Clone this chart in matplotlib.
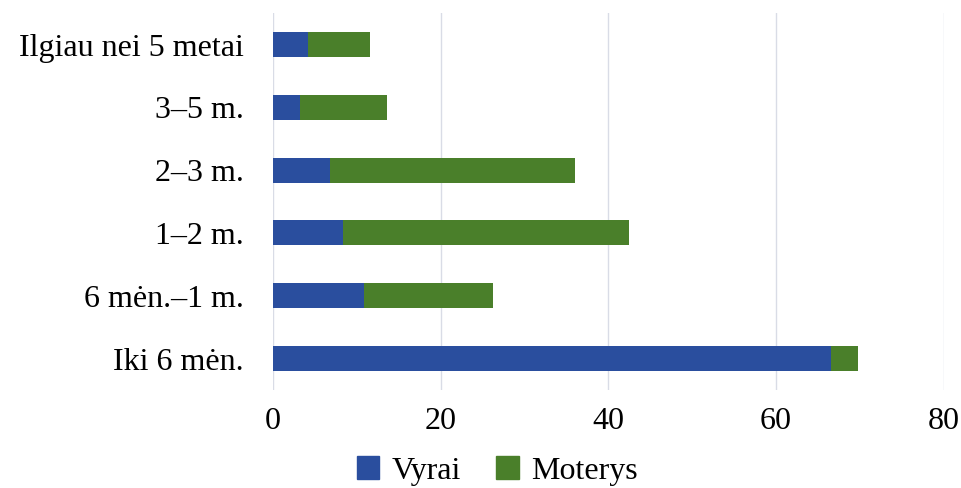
import matplotlib
matplotlib.use('Agg')
import matplotlib.pyplot as plt
from matplotlib.patches import Patch

# Categories (bottom to top as drawn)
categories = ['Iki 6 mėn.', '6 mėn.–1 m.', '1–2 m.', '2–3 m.', '3–5 m.', 'Ilgiau nei 5 metai']
vyrai = [66.6, 10.8, 8.4, 6.8, 3.2, 4.2]
moterys_total = [69.8, 26.2, 42.5, 36.0, 13.6, 11.6]
moterys = [t - v for t, v in zip(moterys_total, vyrai)]

x_ticks = [0, 20, 40, 60, 80]

BLUE = '#2A4E9E'
GREEN = '#4A7F2A'
FS = 23

plt.rcParams['font.family'] = ['Liberation Serif', 'DejaVu Serif']

fig = plt.figure(figsize=(9.62, 4.88), dpi=100)
ax = fig.add_axes([0.2838, 0.201, 0.981 - 0.2838, 0.973 - 0.201])

y = range(len(categories))
ax.barh(y, vyrai, height=0.4, color=BLUE, zorder=3)
ax.barh(y, moterys, left=vyrai, height=0.4, color=GREEN, zorder=3)

ax.set_ylim(-0.5, len(categories) - 0.5)
ax.set_xlim(0, 80)
ax.set_xticks(x_ticks)
ax.set_xticklabels([str(t) for t in x_ticks], fontsize=FS)
ax.set_yticks(list(y))
ax.set_yticklabels(categories, fontsize=FS)
ax.tick_params(axis='x', length=0, pad=12)
ax.tick_params(axis='y', length=0, pad=21)

ax.grid(axis='x', color='#D9DCE6', linewidth=1.0, zorder=0)
for s in ax.spines.values():
    s.set_visible(False)

handles = [Patch(color=BLUE, label='Vyrai'), Patch(color=GREEN, label='Moterys')]
fig.legend(handles=handles, loc='center', bbox_to_anchor=(0.517, 0.035), ncol=2,
           frameon=False, fontsize=FS, handlelength=0.7, handleheight=0.7,
           handletextpad=0.4, columnspacing=1.1, borderpad=0.1)

fig.savefig('out.png', dpi=100)
